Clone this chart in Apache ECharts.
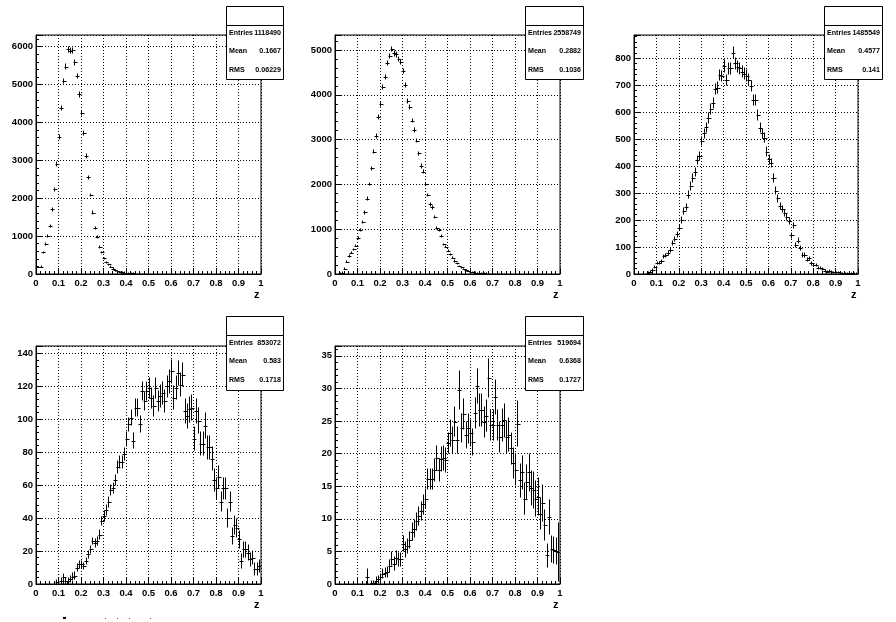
<!DOCTYPE html>
<html>
<head>
<meta charset="utf-8">
<script src="https://cdn.jsdelivr.net/npm/echarts@6/dist/echarts.min.js"></script>
<style>
html,body{margin:0;padding:0;background:#fff;}
#chart{width:896px;height:622px;}
</style>
</head>
<body>
<div id="chart"></div>
<script>
// ---------- DATA (100 bins over z in [0,1]) ----------
const nBins = 100;
const xTickLabels = ['0','0.1','0.2','0.3','0.4','0.5','0.6','0.7','0.8','0.9','1'];

const p1Vals = [190,185,195,572,783,1012,1276,1707,2235,2903,
  3625,4390,5094,5472,5930,5900,5910,5586,5226,4742,
  4258,3712,3114,2551,2085,1619,1223,968,721,572,
  413,308,255,194,141,97,70,55,45,38,
  30,25,20,16,12,9,6,4,3,2,
  0,0,0,0,0,0,0,0,0,0, 0,0,0,0,0,0,0,0,0,0, 0,0,0,0,0,0,0,0,0,0,
  0,0,0,0,0,0,0,0,0,0, 0,0,0,0,0,0,0,0,0,0];
const p1Errs = [12,12,12,20,24,27,30,34,40,46,
  52,56,60,62,64,64,64,62,60,58,
  55,52,47,42,38,34,30,26,23,20,
  17,14,13,12,10,8,7,6,6,5,
  5,4,4,3,3,2,2,1,1,1,
  0,0,0,0,0,0,0,0,0,0, 0,0,0,0,0,0,0,0,0,0, 0,0,0,0,0,0,0,0,0,0,
  0,0,0,0,0,0,0,0,0,0, 0,0,0,0,0,0,0,0,0,0];

const p2Vals = [0,0,10,30,120,275,400,476,550,632,
  796,982,1153,1376,1682,2009,2359,2731,3080,3512,
  3787,4167,4405,4717,4873,5022,4925,4900,4799,4725,
  4531,4219,3862,3735,3423,3214,2976,2693,2411,2284,
  2009,1763,1555,1488,1265,1034,982,848,662,610,
  521,439,365,290,240,180,150,115,90,70,
  55,42,33,26,20,16,13,10,8,6,
  5,4,3,2,2,1,1,0,0,0,
  0,0,0,0,0,0,0,0,0,0, 0,0,0,0,0,0,0,0,0,0];
const p2Errs = [0,0,3,5,9,12,14,15,17,18,
  20,22,24,26,29,32,34,37,39,42,
  44,46,47,48,49,50,49,49,49,48,
  47,46,44,43,41,40,38,36,34,33,
  32,30,28,27,25,23,22,20,18,17,
  16,14,13,12,11,9,8,7,6,5,
  5,4,4,3,3,2,2,2,2,1,
  1,1,1,1,1,1,1,0,0,0,
  0,0,0,0,0,0,0,0,0,0, 0,0,0,0,0,0,0,0,0,0];

const p3Vals = [0,0,0,0,0,0,5,9,15,27,
  41,41,47,66,69,78,90,116,129,147,
  172,200,232,248,294,326,355,378,421,438,
  493,522,544,577,611,633,685,691,738,734,
  771,719,763,763,821,781,769,763,750,742,
  735,720,697,645,645,590,543,522,506,454,
  425,410,355,308,281,252,240,225,210,197,
  143,180,108,124,95,70,70,52,58,40,
  32,32,21,23,19,12,9,11,9,6,
  6,6,5,4,4,2,2,2,1,1];
const p3Errs = [0,0,0,0,0,0,2,2,3,4,
  5,5,5,6,6,7,7,8,8.5,9,
  10,11,11,12,13,13.5,14,14.5,15,15.5,
  16.5,17,17.5,18,18.5,19,19.5,20,20,20,
  21,20,21,21,21.5,21,21,21,20.5,20.5,
  20,20,20,19,19,18,17.5,17,17,16,
  15.5,15,14,13,12.5,12,11.5,11,11,10.5,
  9,10,8,8.5,7,6,6,5.5,5.5,5,
  4,4,3.5,3.5,3,2.5,2,2.5,2,2,
  2,2,1.5,1.5,1.5,1,1,1,1,1];

const p4Vals = [0,0,0,0,0,0,0,0,0,1,
  0,2,4,2,2,3,4.5,5,10,12,
  12,11,14,18,21,26,25,26,30,38,
  41,45,50,57,58,63,71,74,74,79,
  88,97,101,87,107,107,97,117,111,117,
  119,113,108,119,111,114,116,111,120,123,
  129,113,119,128,121,127,105,102,106,107,
  88,105,99,85,85,96,83,83,76,63,
  58,65,50,58,58,40,50,29,36,34,
  27,14,21,21,19,15,16,9,9,11];
const p4Errs = [0,0,0,0,0,0,0,0,0,1.7,
  0,1.8,2,1.8,1.8,1.8,2,2,2,2,
  2,2,2,2,2,2,2.5,2.5,2.5,2.5,
  3,3,3,3,3,3,3.5,3.5,3.5,3.5,
  4,4,4.5,4.5,5,5,5,5.5,5.5,5.5,
  6,6,6,6,6,6.5,6.5,6.5,6.5,7,
  7,7,7,7,7,7,7.5,7.5,7.5,7.5,
  7,7.5,7.5,7,7,7.5,7,7,7,6.5,
  6.5,6.5,6,6.5,6.5,5.5,6,5,5.5,5.5,
  5,4,4.5,4.5,4.5,4,4,3.5,3.5,3.5];

const p5Vals = [0,0,0,0,0,0,0,0,0,0,
  0,0,0,0,1.1,0,0.1,0.2,0.5,0.7,
  1.0,1.6,1.7,1.8,2.8,3.9,3.1,4.0,3.8,3.8,
  6.2,5.3,5.8,6.7,8.0,8.5,9.6,10.4,11.2,12.2,
  13.1,16.1,16.1,16.1,17.5,19.3,17.5,19.2,19.3,19.0,
  21.6,23.1,22.1,24.9,22.1,29.8,23.9,26.0,22.8,23.9,
  23.1,21.8,26.3,30.4,26.7,26.7,24.8,25.8,31.6,24.4,
  24.4,28.7,24.4,22.5,24.4,25.1,22.5,22.9,20.8,18.5,
  17.5,24.6,15.9,17.1,13.1,15.6,17.1,14.7,14.4,13.1,
  13.4,10.8,12.4,9.0,4.4,10.3,5.3,5.2,5.0,4.9];
const p5Errs = [0,0,0,0,0,0,0,0,0,0,
  0,0,0,0,1.2,0,0.3,0.3,0.5,0.5,
  0.6,0.7,0.7,0.8,0.9,1.0,1.0,1.0,1.0,1.0,
  1.2,1.1,1.1,1.2,1.3,1.3,1.3,1.4,1.4,1.5,
  1.5,1.6,1.6,1.6,1.7,1.8,1.7,1.8,1.8,1.8,
  1.5,2.0,2.0,2.2,2.0,2.9,2.1,2.3,2.0,2.2,
  2.0,2.0,2.3,2.6,2.4,2.4,2.3,2.4,2.9,2.3,
  2.3,2.6,2.3,2.3,2.4,2.5,2.4,2.5,2.4,2.3,
  2.3,3.5,2.5,2.6,2.4,2.6,2.8,2.6,2.7,2.7,
  2.8,2.4,2.8,2.3,1.8,2.6,2.0,2.0,2.0,4.4];

const yMaxes = [6310, 5335, 886, 144.4, 36.5];
const yIntervals = [1000, 1000, 100, 20, 5];

const statEntries = ['1118490','2558749','1485549','853072','519694'];
const statMeans   = ['0.1667','0.2882','0.4577','0.583','0.6368'];
const statRMS     = ['0.06229','0.1036','0.141','0.1718','0.1727'];

// ---------- LAYOUT ----------
const gridBoxes = [
  {left:36,  top:35,  width:225, height:239},
  {left:335, top:35,  width:225, height:239},
  {left:634, top:35,  width:224, height:239},
  {left:36,  top:346, width:225, height:238},
  {left:335, top:346, width:225, height:238}
];
const statBoxes = [
  {x:226, y:6,   w:57, h:73},
  {x:525, y:6,   w:58, h:73},
  {x:824, y:6,   w:58, h:73},
  {x:226, y:316, w:57, h:74},
  {x:525, y:316, w:58, h:74}
];

const FONT = '"Liberation Sans", Arial, Helvetica, sans-serif';
const allVals = [p1Vals,p2Vals,p3Vals,p4Vals,p5Vals];
const allErrs = [p1Errs,p2Errs,p3Errs,p4Errs,p5Errs];

function histData(vals, errs){
  const d = [];
  for (let i = 0; i < nBins; i++){
    if (vals[i] > 0) d.push([i/nBins, (i+1)/nBins, vals[i], errs[i]]);
  }
  return d;
}

function renderHist(params, api){
  const lo = api.value(0), hi = api.value(1), v = api.value(2), e = api.value(3);
  const pL = api.coord([lo, v]);
  const pR = api.coord([hi, v]);
  const mid = (lo + hi) / 2;
  const pT = api.coord([mid, v + e]);
  const pB = api.coord([mid, Math.max(v - e, 0)]);
  const y = Math.round(pL[1]) + 0.5;
  const xm = Math.round(pT[0]) - 0.5;
  const st = {stroke:'#000', lineWidth:1};
  const children = [
    {type:'line', shape:{x1:Math.floor(pL[0]) - 0.5, y1:y, x2:Math.ceil(pR[0]) + 0.5, y2:y}, style:st}
  ];
  if (e > 0) children.push({type:'line', shape:{x1:xm, y1:Math.round(pT[1]) - 0.5, x2:xm, y2:Math.round(pB[1]) + 0.5}, style:st});
  return {type:'group', children};
}

const grids = [], xAxes = [], yAxes = [], series = [], graphics = [];
const gridLine = {show:true, lineStyle:{color:'#000', type:[1,2], width:1}};

gridBoxes.forEach((g, k) => {
  grids.push({left:g.left, top:g.top, width:g.width, height:g.height, show:true,
    borderColor:'#000', borderWidth:1, backgroundColor:'#fff', containLabel:false, outerBoundsMode:'none'});
  xAxes.push({type:'value', gridIndex:k, min:0, max:1, interval:0.1,
    axisLine:{show:true, onZero:false, lineStyle:{color:'#000', width:1}},
    axisTick:{show:true, inside:true, length:6, lineStyle:{color:'#000'}},
    minorTick:{show:true, splitNumber:5, length:3, lineStyle:{color:'#000'}},
    splitLine:gridLine,
    axisLabel:{color:'#000', fontSize:9.5, fontWeight:'bold', fontFamily:FONT, margin:4,
      formatter: v => xTickLabels[Math.round(v*10)]}
  });
  yAxes.push({type:'value', gridIndex:k, min:0, max:yMaxes[k], interval:yIntervals[k],
    axisLine:{show:true, lineStyle:{color:'#000', width:1}},
    axisTick:{show:true, inside:true, length:6, lineStyle:{color:'#000'}},
    minorTick:{show:true, splitNumber:5, length:3, lineStyle:{color:'#000'}},
    splitLine:gridLine,
    axisLabel:{color:'#000', fontSize:9.5, fontWeight:'bold', fontFamily:FONT, margin:3,
      showMaxLabel:false,
      formatter: v => (Math.abs(v/yIntervals[k] - Math.round(v/yIntervals[k])) < 1e-6) ? String(v) : ''}
  });
  series.push({type:'custom', xAxisIndex:k, yAxisIndex:k, coordinateSystem:'cartesian2d',
    renderItem:renderHist, data:histData(allVals[k], allErrs[k]), clip:true,
    encode:{x:[0,1], y:2}, silent:true, animation:false, z:5});

  // axis title "z"
  graphics.push({type:'text', left:g.left + g.width - 7, top:g.top + g.height + 15, z:100,
    style:{text:'z', fontSize:11, fontWeight:'bold', fontFamily:FONT, fill:'#000'}});

  // stats box
  const s = statBoxes[k];
  graphics.push({type:'rect', shape:{x:s.x+0.5, y:s.y+0.5, width:s.w, height:s.h}, z:100,
    style:{fill:'#fff', stroke:'#000', lineWidth:1}});
  graphics.push({type:'line', shape:{x1:s.x+0.5, y1:s.y+19.5, x2:s.x+s.w+0.5, y2:s.y+19.5}, z:101,
    style:{stroke:'#000', lineWidth:1}});
  const rows = [['Entries', statEntries[k]], ['Mean', statMeans[k]], ['RMS', statRMS[k]]];
  rows.forEach((r, j) => {
    const yy = s.y + 27 + j*18.5;
    graphics.push({type:'text', x:s.x+3, y:yy, z:102,
      style:{text:r[0], fontSize:7.1, fontWeight:'bold', fontFamily:FONT, fill:'#000',
        textAlign:'left', textVerticalAlign:'middle'}});
    graphics.push({type:'text', x:s.x+s.w-2, y:yy, z:102,
      style:{text:r[1], fontSize:7.1, fontWeight:'bold', fontFamily:FONT, fill:'#000',
        textAlign:'right', textVerticalAlign:'middle'}});
  });
});

// cut-off fragments at the very bottom of the lower-left pad
graphics.push({type:'rect', shape:{x:63, y:617, width:3, height:2}, z:100, style:{fill:'#000'}});
[105,117,129,150].forEach(x => graphics.push({type:'rect', shape:{x:x, y:618, width:1, height:1}, z:100, style:{fill:'#555'}}));

const chart = echarts.init(document.getElementById('chart'), null, {renderer:'canvas'});
chart.setOption({
  backgroundColor:'#fff',
  animation:false,
  grid:grids, xAxis:xAxes, yAxis:yAxes, series:series, graphic:graphics
});
</script>
</body>
</html>
